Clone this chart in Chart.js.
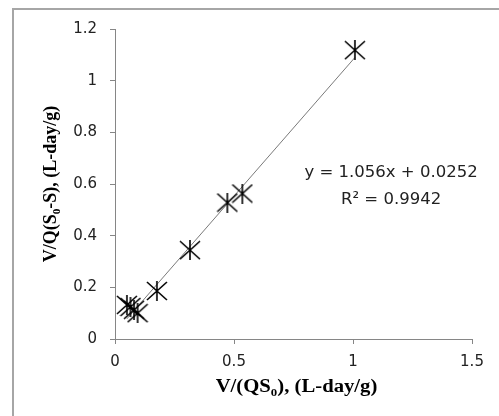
<!DOCTYPE html>
<html>
<head>
<meta charset="utf-8">
<script src="https://cdn.jsdelivr.net/npm/chart.js@4/dist/chart.umd.min.js"></script>
<style>
  html, body { margin: 0; padding: 0; background: #fff; }
  #wrap { position: relative; width: 499px; height: 416px; }
</style>
</head>
<body>
<div id="wrap"><canvas id="chart" width="499" height="416"></canvas></div>
<script>
/* Data */
let xValues = [0.05, 0.065, 0.08, 0.095, 0.176, 0.315, 0.472, 0.535, 1.008]
let yValues = [0.132, 0.124, 0.113, 0.100, 0.186, 0.344, 0.528, 0.563, 1.118]
let xTicks = [0, 0.5, 1, 1.5]
let yTicks = [0, 0.2, 0.4, 0.6, 0.8, 1, 1.2]

// trendline as printed on the chart
let slope = 1.056
let intercept = 0.0252
let rSquared = 0.9942

let points = xValues.map((x, i) => ({ x: x, y: yValues[i] }))
let xMin = Math.min(...xValues)
let xMax = Math.max(...xValues)
let trend = [
    { x: xMin, y: slope * xMin + intercept },
    { x: xMax, y: slope * xMax + intercept }
]

/* Star marker: an X with a vertical stroke, like the spreadsheet one */
function makeStar(w, h) {
    let c = document.createElement('canvas')
    c.width = w
    c.height = h
    let g = c.getContext('2d')
    g.strokeStyle = '#000'
    g.lineWidth = 1.6
    g.beginPath()
    g.moveTo(1, 1); g.lineTo(w - 1, h - 1)
    g.moveTo(w - 1, 1); g.lineTo(1, h - 1)
    g.moveTo(w / 2, 0); g.lineTo(w / 2, h)
    g.stroke()
    return c
}
let star = makeStar(22, 20)

const axisGray = '#868686'
const tickFont = { family: 'DejaVu Sans', size: 15 }

// draws the outer frame, axis titles (with subscripts) and the equation
let decorations = {
    id: 'decorations',
    beforeDraw(chart) {
        let ctx = chart.ctx
        ctx.save()
        ctx.fillStyle = '#fff'
        ctx.fillRect(0, 0, chart.width, chart.height)
        ctx.fillStyle = '#a6a6a6'
        ctx.fillRect(12, 8, 2, chart.height)
        ctx.fillRect(12, 8, chart.width, 2)
        ctx.restore()
    },
    afterDraw(chart) {
        let ctx = chart.ctx
        let area = chart.chartArea
        let sx = chart.scales.x
        let sy = chart.scales.y

        function subText(parts, size) {
            // parts: [text, isSub]
            let width = 0
            parts.forEach(p => {
                ctx.font = 'bold ' + (p[1] ? size * 0.62 : size) + 'px "Liberation Serif"'
                width += ctx.measureText(p[0]).width
            })
            let x = -width / 2
            parts.forEach(p => {
                ctx.font = 'bold ' + (p[1] ? size * 0.62 : size) + 'px "Liberation Serif"'
                ctx.fillText(p[0], x, p[1] ? size * 0.22 : 0)
                x += ctx.measureText(p[0]).width
            })
        }

        ctx.save()
        ctx.fillStyle = '#000'
        ctx.textBaseline = 'alphabetic'

        // x axis title
        ctx.save()
        ctx.translate((area.left + area.right) / 2 + 3, 392)
        ctx.scale(1.15, 1)
        subText([['V/(QS', false], ['0', true], ['), (L-day/g)', false]], 18)
        ctx.restore()

        // y axis title
        ctx.save()
        ctx.translate(56, (area.top + area.bottom) / 2)
        ctx.rotate(-Math.PI / 2)
        subText([['V/Q(S', false], ['0', true], ['-S), (L-day/g)', false]], 18)
        ctx.restore()

        // trendline equation
        ctx.font = '16.5px "DejaVu Sans"'
        ctx.fillStyle = '#222'
        ctx.textAlign = 'center'
        ctx.textBaseline = 'middle'
        let ex = sx.getPixelForValue(1.16)
        ctx.fillText('y = ' + slope + 'x + ' + intercept, ex, sy.getPixelForValue(0.645))
        ctx.fillText('R\u00b2 = ' + rSquared, ex, sy.getPixelForValue(0.54))
        ctx.restore()
    }
}

let ctx = document.querySelector('#chart').getContext('2d')

let chart = new Chart(ctx, {
    type: 'scatter',
    data: {
        datasets: [
            {
                data: points,
                pointStyle: star,
                pointRadius: 10,
                pointHoverRadius: 10
            },
            {
                type: 'line',
                data: trend,
                borderColor: '#7a7a7a',
                borderWidth: 1,
                pointRadius: 0,
                fill: false
            }
        ]
    },
    options: {
        responsive: false,
        animation: false,
        layout: { padding: { left: 0, right: 27, top: 29, bottom: 0 } },
        plugins: {
            legend: { display: false },
            tooltip: { enabled: false }
        },
        scales: {
            x: {
                type: 'linear',
                min: 0,
                max: 1.5,
                afterBuildTicks(scale) { scale.ticks = xTicks.map(v => ({ value: v })) },
                afterFit(scale) { scale.height = 77 },
                grid: { drawOnChartArea: false, drawTicks: true, tickLength: 5, color: axisGray },
                border: { color: axisGray },
                ticks: { color: '#222', font: tickFont, padding: 9, callback: v => String(v) }
            },
            y: {
                type: 'linear',
                min: 0,
                max: 1.2,
                afterBuildTicks(scale) { scale.ticks = yTicks.map(v => ({ value: v })) },
                afterFit(scale) { scale.width = 115 },
                grid: { drawOnChartArea: false, drawTicks: true, tickLength: 5, color: axisGray },
                border: { color: axisGray },
                ticks: { color: '#222', font: tickFont, padding: 13, callback: v => String(v) }
            }
        }
    },
    plugins: [decorations]
})
</script>
</body>
</html>
